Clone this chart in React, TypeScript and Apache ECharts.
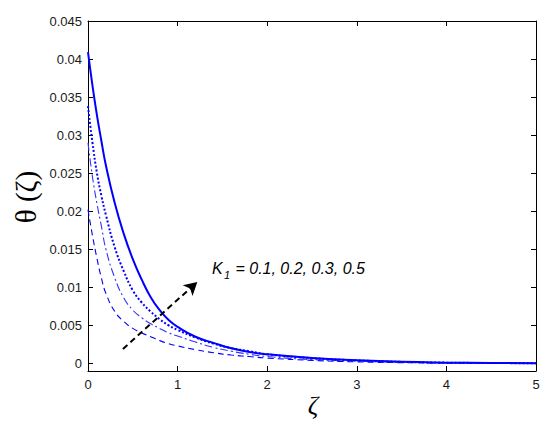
import React, { useEffect, useRef } from "react";
import * as echarts from "echarts";

const xs = [0, 0.05, 0.1, 0.15, 0.2, 0.3, 0.4, 0.5, 0.6, 0.7, 0.8, 0.9, 1.0, 1.2, 1.4, 1.6, 1.8, 2.0, 2.5, 3.0, 3.5, 4.0, 4.5, 5.0];
// K1 = 0.1 (dashed)
const k01 = [0.0202, 0.0168, 0.0138, 0.0112, 0.0092, 0.0068, 0.0055, 0.0046, 0.004, 0.0035, 0.003, 0.0026, 0.0023, 0.0018, 0.0014, 0.0011, 0.0009, 0.0007, 0.0004, 0.0002, 0.0001, 0.00005, 0.00002, 0.00001];
// K1 = 0.2 (dash-dot)
const k02 = [0.029, 0.0245, 0.021, 0.018, 0.015, 0.0112, 0.0086, 0.007, 0.006, 0.0052, 0.0046, 0.004, 0.0036, 0.0028, 0.0021, 0.0016, 0.0012, 0.0009, 0.0005, 0.0003, 0.00015, 0.00007, 0.00003, 0.00001];
// K1 = 0.3 (dotted)
const k03 = [0.0338, 0.029, 0.025, 0.022, 0.0195, 0.0152, 0.0121, 0.0096, 0.008, 0.0068, 0.0058, 0.005, 0.0044, 0.0034, 0.0026, 0.002, 0.0016, 0.0012, 0.0007, 0.0004, 0.0002, 0.0001, 0.00005, 0.00002];
// K1 = 0.5 (solid)
const k05 = [0.0409, 0.0365, 0.0326, 0.0292, 0.026, 0.021, 0.017, 0.0137, 0.011, 0.0087, 0.007, 0.0057, 0.0048, 0.0035, 0.0027, 0.002, 0.0015, 0.0012, 0.0007, 0.0004, 0.0002, 0.0001, 0.00005, 0.00002];

const yTicks = [0, 0.005, 0.01, 0.015, 0.02, 0.025, 0.03, 0.035, 0.04, 0.045];
const yLabels = ["0", "0.005", "0.01", "0.015", "0.02", "0.025", "0.03", "0.035", "0.04", "0.045"];
const arrowFrom = [0.39, 0.0019];
const arrowTo = [1.22, 0.0107];

export default function App() {
  const ref = useRef<HTMLDivElement>(null);
  useEffect(() => {
    const chart = echarts.init(ref.current!, null, { renderer: "svg" });
    const pairs = (ys: number[]) => xs.map((x, i) => [x, ys[i]]);
    const axisCommon = {
      axisLine: { show: true, onZero: false, lineStyle: { color: "#000", width: 1 } },
      axisTick: { show: true, inside: true, length: 5, lineStyle: { color: "#000" } },
      splitLine: { show: false },
    };
    const labelStyle = { color: "#1a1a1a", fontSize: 13, fontFamily: "Liberation Sans, Arial, sans-serif" };
    const yCustom = {
      axisTick: { show: true, inside: true, length: 5, lineStyle: { color: "#000" }, customValues: yTicks },
    };
    chart.setOption({
      animation: false,
      backgroundColor: "#fff",
      grid: { left: 88, right: 14, top: 21, bottom: 54, containLabel: false },
      xAxis: [
        {
          type: "value", min: 0, max: 5, interval: 1, ...axisCommon,
          axisLabel: { ...labelStyle, margin: 7 },
        },
        {
          type: "value", min: 0, max: 5, interval: 1, position: "top", ...axisCommon,
          axisLabel: { show: false },
        },
      ],
      yAxis: [
        {
          type: "value", min: -0.001, max: 0.045, ...axisCommon, ...yCustom,
          axisLabel: {
            ...labelStyle, margin: 6, customValues: yTicks,
            formatter: (v: number) => { const i = yTicks.findIndex((t) => Math.abs(t - v) < 1e-9); return i >= 0 ? yLabels[i] : ""; },
          },
        },
        {
          type: "value", min: -0.001, max: 0.045, position: "right", ...axisCommon, ...yCustom,
          axisLabel: { show: false },
        },
      ],
      series: [
        {
          type: "line", data: pairs(k01), showSymbol: false, smooth: true,
          lineStyle: { color: "#0000ff", width: 1.1, type: [6, 4] },
        },
        {
          type: "line", data: pairs(k02), showSymbol: false, smooth: true,
          lineStyle: { color: "#3333ff", width: 1.1, type: [8, 3, 2, 3] },
        },
        {
          type: "line", data: pairs(k03), showSymbol: false, smooth: true,
          lineStyle: { color: "#0000ff", width: 2, type: [2, 2] },
        },
        {
          type: "line", data: pairs(k05), showSymbol: false, smooth: true,
          lineStyle: { color: "#0000ff", width: 2, type: "solid" },
          markLine: {
            silent: true, animation: false,
            symbol: ["none", "arrow"], symbolSize: [11, 13],
            label: { show: false },
            lineStyle: { color: "#000", width: 2, type: [6, 4] },
            data: [[{ coord: arrowFrom }, { coord: arrowTo }]],
          },
        },
      ],
      graphic: [
        {
          type: "text", x: 26, y: 197, rotation: Math.PI / 2,
          style: { text: "θ (ζ)", font: "29px 'Liberation Serif', serif", fill: "#000", textAlign: "center", textVerticalAlign: "middle" },
        },
        {
          type: "text", x: 313, y: 405,
          style: { text: "ζ", font: "italic 26px 'Liberation Serif', serif", fill: "#000", textAlign: "center", textVerticalAlign: "middle" },
        },
        {
          type: "text", x: 212, y: 268,
          style: { text: "K", font: "italic 16px 'Liberation Sans', Arial, sans-serif", fill: "#000", textAlign: "left", textVerticalAlign: "middle" },
        },
        {
          type: "text", x: 224, y: 275,
          style: { text: "1", font: "italic 11px 'Liberation Sans', Arial, sans-serif", fill: "#000", textAlign: "left", textVerticalAlign: "middle" },
        },
        {
          type: "text", x: 231, y: 268,
          style: { text: " = 0.1, 0.2, 0.3, 0.5", font: "italic 16px 'Liberation Sans', Arial, sans-serif", fill: "#000", textAlign: "left", textVerticalAlign: "middle" },
        },
      ],
    });
    return () => chart.dispose();
  }, []);
  return <div ref={ref} style={{ width: 550, height: 425, position: "absolute", left: 0, top: 0 }} />;
}
